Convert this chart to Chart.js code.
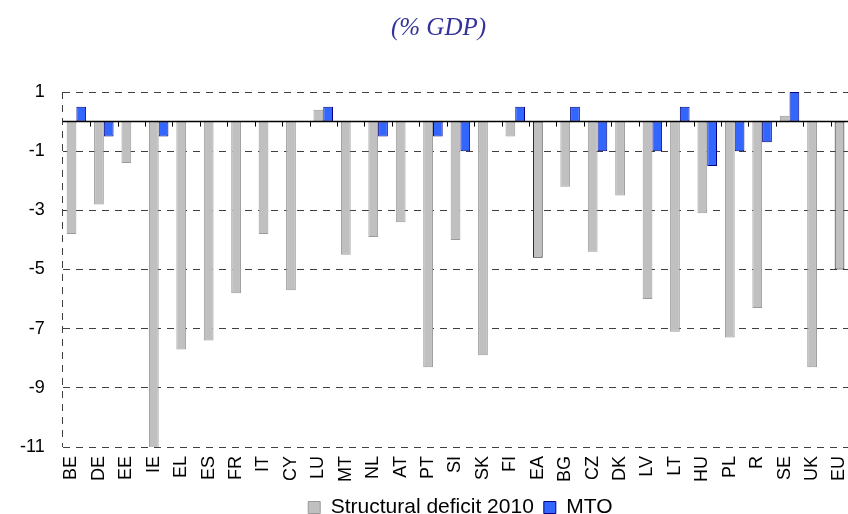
<!DOCTYPE html>
<html>
<head>
<meta charset="utf-8">
<script src="https://cdn.jsdelivr.net/npm/chart.js@4.4.1/dist/chart.umd.min.js"></script>
<style>
    html, body { margin: 0; padding: 0; background: #fff; overflow: hidden; }
    #wrap { width: 875px; height: 514px; }
</style>
</head>
<body>
<div id="wrap"><canvas id="myChart"></canvas></div>
<script>
const categories = ["BE", "DE", "EE", "IE", "EL", "ES", "FR", "IT", "CY", "LU", "MT", "NL", "AT", "PT", "SI",
    "SK", "FI", "EA", "BG", "CZ", "DK", "LV", "LT", "HU", "PL", "R", "SE", "UK", "EU"];

const structuralDeficit = [-3.8, -2.8, -1.4, -11.1, -7.7, -7.4, -5.8, -3.8, -5.7, 0.4, -4.5, -3.9, -3.4, -8.3, -4.0,
    -7.9, -0.5, -4.6, -2.2, -4.4, -2.5, -6.0, -7.1, -3.1, -7.3, -6.3, 0.2, -8.3, -5.0];

const mto = [0.5, -0.5, null, -0.5, null, null, null, null, null, 0.5, null, -0.5, null, -0.5, -1.0,
    null, 0.5, null, 0.5, -1.0, null, -1.0, 0.5, -1.5, -1.0, -0.7, 1.0, null, null];

// aggregates get a dark outline
const aggregates = ["EA", "EU"];

const yMin = -11;
const yMax = 1;
const yStep = 2;

const font = "'Liberation Sans', Arial, sans-serif";

// solid zero line with small tick marks between countries
const zeroLine = {
    id: "zeroLine",
    afterDatasetsDraw(chart) {
        const { ctx, chartArea, scales } = chart;
        const y0 = scales.y.getPixelForValue(0);
        ctx.save();
        ctx.strokeStyle = "#000";
        ctx.lineWidth = 1.5;
        ctx.beginPath();
        ctx.moveTo(chartArea.left, y0);
        ctx.lineTo(chartArea.right, y0);
        ctx.stroke();
        ctx.lineWidth = 1;
        ctx.beginPath();
        for (let i = 1; i < categories.length; i++) {
            const px = Math.round(scales.x.getPixelForValue(i - 0.5)) + 0.5;
            ctx.moveTo(px, y0);
            ctx.lineTo(px, y0 + 5);
        }
        ctx.stroke();
        ctx.restore();
    }
};

const ctx = document.getElementById("myChart").getContext("2d");

new Chart(ctx, {
    type: "bar",
    data: {
        labels: categories,
        datasets: [
            {
                label: "Structural deficit 2010",
                data: structuralDeficit,
                backgroundColor: "#c0c0c0",
                borderColor: function (c) {
                    if (c.dataIndex !== undefined && aggregates.includes(categories[c.dataIndex])) {
                        return "#1a1a1a";
                    }
                    return "#9a9a9a";
                },
                borderWidth: 1,
                borderSkipped: false,
                categoryPercentage: 0.71,
                barPercentage: 1.0
            },
            {
                label: "MTO",
                data: mto,
                backgroundColor: "#3366ff",
                borderColor: "#000080",
                borderWidth: 1,
                borderSkipped: false,
                categoryPercentage: 0.71,
                barPercentage: 1.0
            }
        ]
    },
    options: {
        responsive: true,
        maintainAspectRatio: false,
        animation: false,
        layout: {
            padding: { left: 2, right: 0, top: 0, bottom: -14 }
        },
        scales: {
            x: {
                afterFit: function (scale) {
                    scale.height = 40;
                },
                grid: {
                    display: true,
                    drawTicks: false,
                    lineWidth: 1,
                    color: function (c) {
                        return c.index === 0 ? "#404040" : "rgba(0,0,0,0)";
                    }
                },
                border: { display: false, dash: [7, 6] },
                ticks: {
                    autoSkip: false,
                    minRotation: 90,
                    maxRotation: 90,
                    padding: 9,
                    labelOffset: -5,
                    color: "#000",
                    font: { family: font, size: 18 }
                }
            },
            y: {
                min: yMin,
                max: yMax,
                grid: {
                    color: "#404040",
                    lineWidth: 1,
                    drawTicks: false
                },
                border: { display: false, dash: [7, 6] },
                ticks: {
                    stepSize: yStep,
                    padding: 18,
                    color: "#000",
                    font: { family: font, size: 18 }
                }
            }
        },
        plugins: {
            title: {
                display: true,
                text: "(% GDP)",
                color: "#333399",
                font: { family: "'Liberation Serif', 'Times New Roman', serif", size: 25, style: "italic", weight: "normal" },
                padding: { top: 13, bottom: 49 }
            },
            legend: {
                position: "bottom",
                fullSize: false,
                labels: {
                    boxWidth: 12,
                    boxHeight: 12,
                    padding: 10,
                    color: "#000",
                    font: { family: font, size: 21 }
                }
            },
            tooltip: { enabled: false }
        }
    },
    plugins: [zeroLine]
});
</script>
</body>
</html>
